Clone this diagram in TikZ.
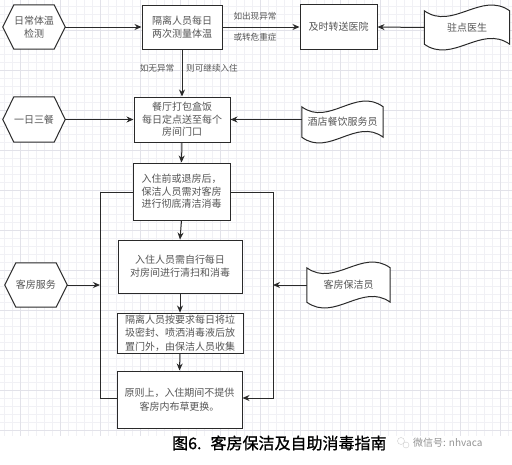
\documentclass[tikz,border=0pt]{standalone}
\usepackage{fontspec}
\setmainfont{Noto Sans CJK SC}
\newfontfamily\capfont[FakeBold=1]{Noto Sans CJK SC}
\usetikzlibrary{arrows.meta,calc}
\definecolor{txt}{HTML}{555555}
\definecolor{ln}{HTML}{2A2A2A}
\definecolor{gridmin}{HTML}{F1F1F5}
\definecolor{gridmaj}{HTML}{E2E2E9}
\pgfdeclarelayer{grid}
\pgfdeclarelayer{bg}
\pgfsetlayers{grid,bg,main}
\newcommand\hexdraw[1]{%
  \draw[line,fill=white] (#1.west) -- ([xshift=11pt]#1.north west) -- ([xshift=-11pt]#1.north east)
    -- (#1.east) -- ([xshift=-11pt]#1.south east) -- ([xshift=11pt]#1.south west) -- cycle;}
\newcommand\tapedraw[1]{%
  \draw[line,fill=white] let \p1=(#1.north west), \p2=(#1.south east), \n1={(\x2-\x1)/3} in
    (\x1,\y1) .. controls (\x1+\n1,\y1-20pt) and (\x2-\n1,\y1+20pt) .. (\x2,\y1)
    -- (\x2,\y2) .. controls (\x2-\n1,\y2+20pt) and (\x1+\n1,\y2-20pt) .. (\x1,\y2) -- cycle;}
\begin{document}
\begin{tikzpicture}[x=1pt,y=-1pt,
  line/.style={draw=ln,line width=1pt},
  arr/.style={line,-{Stealth[length=7pt,width=6pt]}},
  box/.style={draw=ln,line width=1pt,fill=white,text=txt,align=center,inner sep=0pt,
    font=\fontsize{10}{12.5}\selectfont},
  hexn/.style={text=txt,align=center,inner sep=0pt,minimum width=62pt,minimum height=44pt,
    font=\fontsize{10}{12.5}\selectfont},
  tapen/.style={text=txt,align=center,inner sep=0pt,font=\fontsize{10}{12.5}\selectfont},
  lbl/.style={text=txt,inner sep=0pt,font=\fontsize{8.6}{10}\selectfont}]
\useasboundingbox (0,0) rectangle (512,464);
\begin{pgfonlayer}{grid}
  \fill[white] (0,0) rectangle (512,464);
  \foreach \x in {4,12,...,508} \draw[gridmin,line width=0.5pt] (\x,0) -- (\x,436);
  \foreach \y in {6,14,...,436} \draw[gridmin,line width=0.5pt] (0,\y) -- (512,\y);
  \foreach \x in {20,60,...,500} \draw[gridmaj,line width=0.7pt] (\x,0) -- (\x,436);
  \foreach \y in {30,70,...,430} \draw[gridmaj,line width=0.7pt] (0,\y) -- (512,\y);
\end{pgfonlayer}

% row 1
\node[hexn] (hex1) at (34,27) {日常体温\\检测};
\node[box,minimum width=80pt,minimum height=44pt] (box1) at (182,27) {隔离人员每日\\两次测量体温};
\node[box,minimum width=77pt,minimum height=45pt] (box2) at (338.5,27) {及时转送医院};
\node[tapen,minimum width=85pt,minimum height=33pt] (doc1) at (467,27.5) {驻点医生};
% row 2
\node[hexn,minimum height=45pt] (hex2) at (34,119.5) {一日三餐};
\node[box,minimum width=96pt,minimum height=45pt] (box3) at (182,119.5) {餐厅打包盒饭\\每日定点送至每个\\房间门口};
\node[tapen,minimum width=81pt,minimum height=30pt] (doc2) at (342.5,122) {酒店餐饮服务员};
% column
\node[box,minimum width=97pt,minimum height=57pt] (box4) at (181.5,191.5) {入住前或退房后，\\保洁人员需对客房\\进行彻底清洁消毒};
\node[box,minimum width=124pt,minimum height=53pt,font=\fontsize{10}{13}\selectfont] (box5) at (180,266.5) {入住人员需自行每日\\对房间进行清扫和消毒};
\node[box,minimum width=126pt,minimum height=40pt,font=\fontsize{10}{13.5}\selectfont] (box6) at (180,333) {隔离人员按要求每日将垃\\圾密封、喷洒消毒液后放\\置门外，由保洁人员收集};
\node[box,minimum width=125pt,minimum height=57pt,font=\fontsize{10}{14}\selectfont] (box7) at (179.5,399.5) {原则上，入住期间不提供\\客房内布草更换。};
\node[hexn] (hex3) at (36,285) {客房服务};
\node[tapen,minimum width=83pt,minimum height=34pt] (doc3) at (348.5,285) {客房保洁员};

\begin{pgfonlayer}{bg}
  \hexdraw{hex1}\hexdraw{hex2}\hexdraw{hex3}
  \tapedraw{doc1}\tapedraw{doc2}\tapedraw{doc3}
\end{pgfonlayer}

% labels
\node[lbl] (l1) at (255,16) {如出现异常};
\node[lbl] (l2) at (255,37) {或转危重症};
\node[lbl] (l3) at (157,68) {如无异常};
\node[lbl] (l4) at (212,68) {则可继续入住};

% frame corners
\coordinate (fTL) at (100,192);
\coordinate (fBL) at (100,398);
\coordinate (fTR) at (273,192);
\coordinate (fBR) at (273,398);

% connectors
\draw[arr] (hex1.east) -- (box1.west);
\draw[arr] (box1.east) -- (box2.west);
\draw[arr] (doc1.west) -- (box2.east);
\draw[arr] (box1.south) -- (box3.north);
\draw[arr] (hex2.east) -- (box3.west);
\draw[arr] (doc2.west |- box3.east) -- (box3.east);
\draw[arr] (box3.south) -- (box4.north);
\draw[arr] (box4.south) -- (box5.north);
\draw[arr] (box5.south) -- (box6.north);
\draw[arr] (box6.south) -- (box7.north);
\draw[line] (box4.west |- fTL) -- (fTL) -- (fBL) -- (fBL -| box7.west);
\draw[arr] (box4.east |- fTR) -- (fTR) -- (fBR) -- (fBR -| box7.east);
\draw[arr] (hex3.east) -- (hex3.east -| fTL);
\draw[arr] (doc3.west) -- (doc3.west -| fTR);

% caption
\node[anchor=west,inner sep=0pt,text=black,font=\capfont\fontsize{16}{18}\selectfont] (cap) at (172,443) {图6.\hspace{9pt}客房保洁及自助消毒指南};
\node[draw=gray!40,circle,minimum size=7pt,inner sep=0pt] (ic1) at (401,441) {};
\node[draw=gray!40,circle,minimum size=6pt,inner sep=0pt] (ic2) at (406,445) {};
\node[anchor=west,inner sep=0pt,text=gray!85,font=\fontsize{10}{12}\selectfont] (wm) at (413,443) {微信号: nhvaca};
\end{tikzpicture}
\end{document}
